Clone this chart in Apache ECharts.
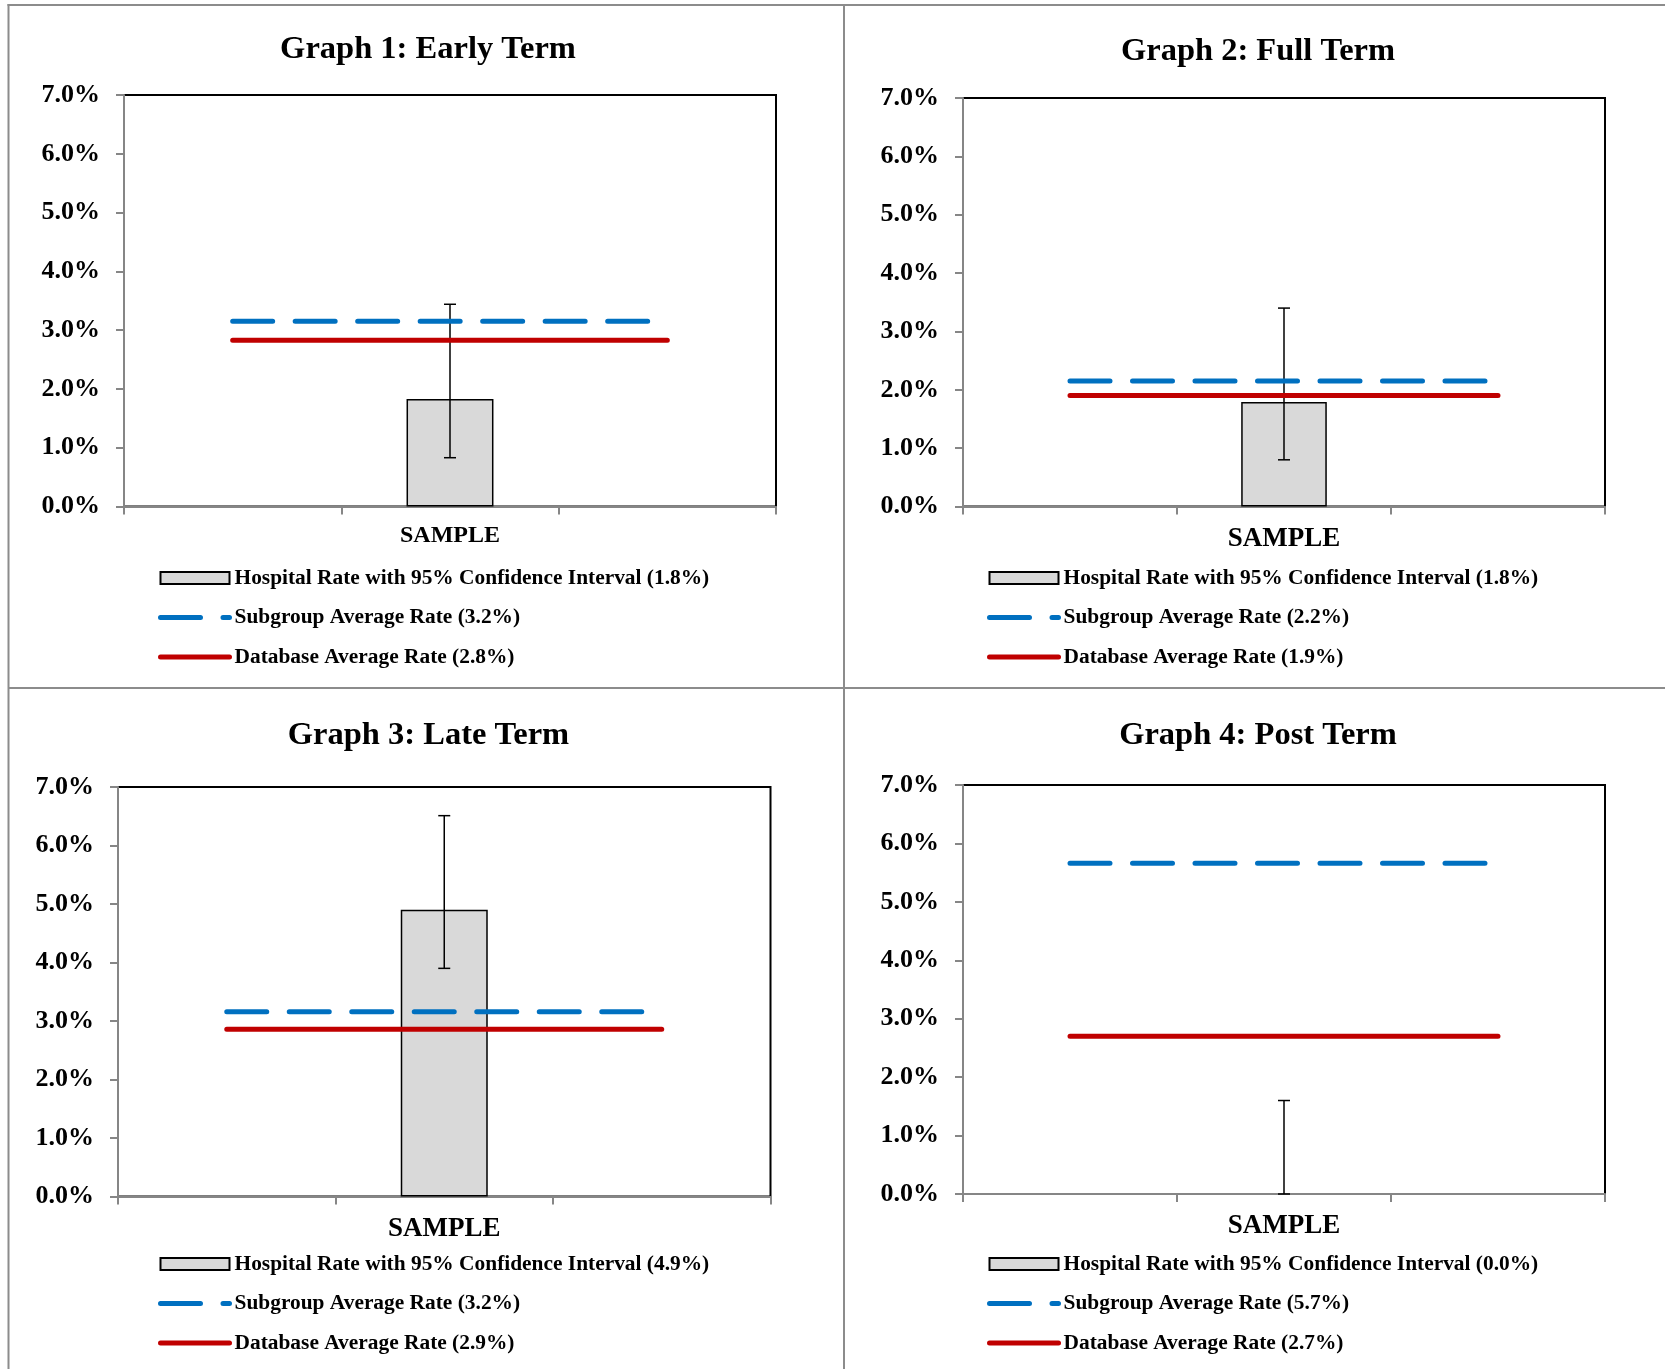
<!DOCTYPE html>
<html>
<head>
<meta charset="utf-8">
<script src="https://cdn.jsdelivr.net/npm/echarts@6/dist/echarts.min.js"></script>
<style>
html,body{margin:0;padding:0;background:#fff;}
#chart{width:1665px;height:1369px;}
</style>
</head>
<body>
<div id="chart"></div>
<script>
// ---- data ----
const titles = ['Graph 1: Early Term', 'Graph 2: Full Term', 'Graph 3: Late Term', 'Graph 4: Post Term'];
const categories = ['', 'SAMPLE', ''];
const hospitalRate = [1.83, 1.79, 4.90, 0.00];
const ciLower = [0.83, 0.80, 3.90, 0.00];
const ciUpper = [3.44, 3.40, 6.51, 1.60];
const subgroupRate = [3.15, 2.15, 3.16, 5.66];
const databaseRate = [2.83, 1.90, 2.86, 2.70];
const hospitalLabel = ['1.8%', '1.8%', '4.9%', '0.0%'];
const subgroupLabel = ['3.2%', '2.2%', '3.2%', '5.7%'];
const databaseLabel = ['2.8%', '1.9%', '2.9%', '2.7%'];
const yMin = 0, yMax = 7, yStep = 1;

// ---- layout / style ----
const FONT = "'Liberation Serif', 'Times New Roman', serif";
const GREY = '#868686';
const BLUE = '#0070C0';
const RED = '#C00000';
const layout = [
  {grid: {left: 124, top: 95, width: 652, height: 411.5}, tx: 428, ty: 50, lx: 158, ly: 578, xFont: 24, xMargin: 17},
  {grid: {left: 963, top: 98, width: 642, height: 408.5}, tx: 1258, ty: 52, lx: 987, ly: 578, xFont: 27, xMargin: 19},
  {grid: {left: 118, top: 787, width: 652.5, height: 409.5}, tx: 428.5, ty: 736, lx: 158, ly: 1264, xFont: 27, xMargin: 19},
  {grid: {left: 963, top: 785, width: 642, height: 409}, tx: 1258, ty: 736, lx: 987, ly: 1264, xFont: 27, xMargin: 19}
];
const subDash = [40, 22.5];

function renderCI(params, api) {
  const x = api.value(0);
  const lo = api.coord([x, api.value(1)]);
  const hi = api.coord([x, api.value(2)]);
  const cw = 6;
  const style = {stroke: '#000', lineWidth: 1.5};
  return {
    type: 'group',
    children: [
      {type: 'line', shape: {x1: lo[0], y1: lo[1], x2: hi[0], y2: hi[1]}, style: style},
      {type: 'line', shape: {x1: hi[0] - cw, y1: hi[1], x2: hi[0] + cw, y2: hi[1]}, style: style},
      {type: 'line', shape: {x1: lo[0] - cw, y1: lo[1], x2: lo[0] + cw, y2: lo[1]}, style: style}
    ]
  };
}

const option = {
  animation: false,
  backgroundColor: '#fff',
  title: [], grid: [], xAxis: [], yAxis: [], legend: [], series: [],
  graphic: [
    {type: 'line', shape: {x1: 7.5, y1: 5, x2: 1665, y2: 5}, style: {stroke: '#8c8c8c', lineWidth: 2}},
    {type: 'line', shape: {x1: 8.5, y1: 4, x2: 8.5, y2: 1369}, style: {stroke: '#8c8c8c', lineWidth: 2}},
    {type: 'line', shape: {x1: 844, y1: 4, x2: 844, y2: 1369}, style: {stroke: '#8c8c8c', lineWidth: 2}},
    {type: 'line', shape: {x1: 8, y1: 688, x2: 1665, y2: 688}, style: {stroke: '#8c8c8c', lineWidth: 2}}
  ]
};

for (let i = 0; i < 4; i++) {
  const L = layout[i];
  const hName = 'Hospital Rate with 95% Confidence Interval (' + hospitalLabel[i] + ')';
  const sName = 'Subgroup Average Rate (' + subgroupLabel[i] + ')';
  const dName = 'Database Average Rate (' + databaseLabel[i] + ')';

  option.title.push({
    text: titles[i], left: L.tx, top: L.ty, padding: 0,
    textAlign: 'center', textVerticalAlign: 'middle',
    textStyle: {fontFamily: FONT, fontWeight: 'bold', fontSize: 32.5, color: '#000'}
  });
  option.grid.push(Object.assign({show: true, borderColor: '#000', borderWidth: 2, backgroundColor: 'transparent'}, L.grid));
  option.xAxis.push({
    type: 'category', gridIndex: i, data: categories, boundaryGap: true,
    axisLine: {show: true, lineStyle: {color: GREY, width: 2}},
    axisTick: {show: true, interval: 0, length: 8, lineStyle: {color: GREY, width: 2}},
    axisLabel: {interval: 0, margin: L.xMargin, color: '#000', fontFamily: FONT, fontWeight: 'bold', fontSize: L.xFont},
    splitLine: {show: false}
  });
  option.yAxis.push({
    type: 'value', gridIndex: i, min: yMin, max: yMax, interval: yStep,
    axisLine: {show: true, lineStyle: {color: GREY, width: 2}},
    axisTick: {show: true, length: 8, lineStyle: {color: GREY, width: 2}},
    axisLabel: {margin: 24, color: '#000', fontFamily: FONT, fontWeight: 'bold', fontSize: 26,
      padding: [8, 0, 0, 0], formatter: v => v.toFixed(1) + '%'},
    splitLine: {show: false}
  });
  option.legend.push({
    orient: 'vertical', left: L.lx, top: L.ly - 11, padding: 0, itemGap: 17.5,
    itemWidth: 69, itemHeight: 12, align: 'left', selectedMode: false,
    textStyle: {fontFamily: FONT, fontWeight: 'bold', fontSize: 21.4, lineHeight: 22, color: '#000'},
    data: [
      {name: hName, icon: 'rect', itemStyle: {color: '#d9d9d9', borderColor: '#000', borderWidth: 2}},
      {name: sName, itemStyle: {color: 'rgba(0,0,0,0)', borderColor: 'rgba(0,0,0,0)', borderWidth: 0, opacity: 0},
        lineStyle: {color: BLUE, width: 5, type: subDash, cap: 'round'}},
      {name: dName, itemStyle: {color: 'rgba(0,0,0,0)', borderColor: 'rgba(0,0,0,0)', borderWidth: 0, opacity: 0},
        lineStyle: {color: RED, width: 5, type: 'solid', cap: 'round'}}
    ]
  });
  option.series.push({
    name: hName, type: 'bar', xAxisIndex: i, yAxisIndex: i, barWidth: '40%', z: 2,
    data: categories.map((c, k) => k === 1
      ? {value: hospitalRate[i], itemStyle: {borderWidth: hospitalRate[i] > 0 ? 1.5 : 0}}
      : null),
    itemStyle: {color: '#d9d9d9', borderColor: '#000', borderWidth: 1.5}
  });
  option.series.push({
    name: 'CI ' + (i + 1), type: 'custom', xAxisIndex: i, yAxisIndex: i, z: 3,
    renderItem: renderCI, encode: {x: 0, y: [1, 2]},
    data: [[1, ciLower[i], ciUpper[i]]]
  });
  option.series.push({
    name: sName, type: 'line', xAxisIndex: i, yAxisIndex: i, z: 4, symbol: 'none',
    data: categories.map(() => subgroupRate[i]),
    lineStyle: {color: BLUE, width: 5, type: subDash, cap: 'round'},
    itemStyle: {color: BLUE}
  });
  option.series.push({
    name: dName, type: 'line', xAxisIndex: i, yAxisIndex: i, z: 4, symbol: 'none',
    data: categories.map(() => databaseRate[i]),
    lineStyle: {color: RED, width: 5, cap: 'round'},
    itemStyle: {color: RED}
  });
}

const chart = echarts.init(document.getElementById('chart'), null, {renderer: 'canvas'});
chart.setOption(option);
</script>
</body>
</html>
